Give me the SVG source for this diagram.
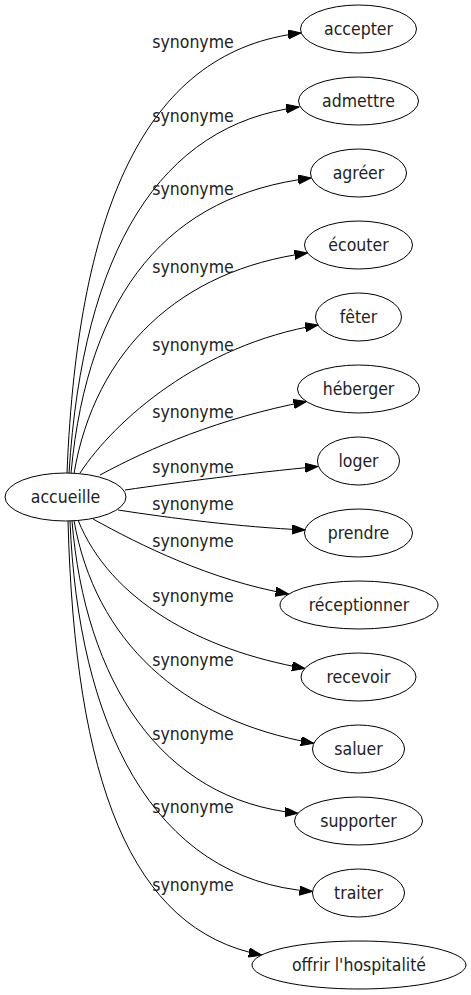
<svg xmlns="http://www.w3.org/2000/svg" width="471" height="995" viewBox="0 0 471 995">
<style>
.n ellipse{fill:#fff;stroke:#000;stroke-width:1}
text{font-family:"DejaVu Sans Condensed","DejaVu Sans",sans-serif;font-stretch:condensed;font-size:17.5px;fill:#222;text-anchor:middle}
.e path{fill:none;stroke:#000;stroke-width:1}
</style>
<defs>
<marker id="arr" markerUnits="userSpaceOnUse" markerWidth="14" markerHeight="10" refX="13" refY="4.6" orient="auto">
<path d="M0,0 L13,4.6 L0,9.2 Z" fill="#000" stroke="#000" stroke-width="1"/>
</marker>
</defs>
<rect width="471" height="995" fill="#fff"/>
<g id="edges" class="e">
<path marker-end="url(#arr)" d="M67,473 C78,200 150,50 301,33"/>
<path marker-end="url(#arr)" d="M69,473 C83,250 160,125 299,107"/>
<path marker-end="url(#arr)" d="M71,473 C88,290 170,195 311,178"/>
<path marker-end="url(#arr)" d="M74,473.5 C95,350 180,270 307.5,253"/>
<path marker-end="url(#arr)" d="M80,473 C115,420 200,345 318,325"/>
<path marker-end="url(#arr)" d="M100,475 C150,448 220,418 306.5,401.5"/>
<path marker-end="url(#arr)" d="M125,490 C180,482 250,473 318,466.5"/>
<path marker-end="url(#arr)" d="M118,510 C170,518 240,527 305,530"/>
<path marker-end="url(#arr)" d="M93,519 C140,545 210,580 288.5,594"/>
<path marker-end="url(#arr)" d="M78,520 C110,600 200,650 305,668.5"/>
<path marker-end="url(#arr)" d="M74,520.5 C95,640 180,720 313.8,743.3"/>
<path marker-end="url(#arr)" d="M72,521 C85,680 160,800 298,813.3"/>
<path marker-end="url(#arr)" d="M70,521 C78,720 150,880 312.5,891.5"/>
<path marker-end="url(#arr)" d="M68,521 C75,780 130,930 261.7,955"/>
</g>
<g id="labels">
<text x="193" y="48">synonyme</text>
<text x="193" y="121.5">synonyme</text>
<text x="193" y="195">synonyme</text>
<text x="193" y="273">synonyme</text>
<text x="193" y="351">synonyme</text>
<text x="193" y="418">synonyme</text>
<text x="193" y="473">synonyme</text>
<text x="193" y="510">synonyme</text>
<text x="193" y="547">synonyme</text>
<text x="193" y="602">synonyme</text>
<text x="193" y="666">synonyme</text>
<text x="193" y="740">synonyme</text>
<text x="193" y="813">synonyme</text>
<text x="193" y="891">synonyme</text>
</g>
<g id="accueille" class="n"><ellipse cx="65.5" cy="497" rx="60.5" ry="24"/><text x="65.5" y="503">accueille</text></g>
<g id="accepter" class="n"><ellipse cx="358.5" cy="29" rx="58" ry="24"/><text x="358.5" y="35">accepter</text></g>
<g id="admettre" class="n"><ellipse cx="358.5" cy="101" rx="60" ry="24"/><text x="358.5" y="107">admettre</text></g>
<g id="agreer" class="n"><ellipse cx="358.5" cy="173" rx="48" ry="24"/><text x="358.5" y="179">agréer</text></g>
<g id="ecouter" class="n"><ellipse cx="358.5" cy="245" rx="54" ry="24"/><text x="358.5" y="251">écouter</text></g>
<g id="feter" class="n"><ellipse cx="358.5" cy="317" rx="43" ry="24"/><text x="358.5" y="323">fêter</text></g>
<g id="heberger" class="n"><ellipse cx="358.5" cy="389" rx="61" ry="24"/><text x="358.5" y="395">héberger</text></g>
<g id="loger" class="n"><ellipse cx="358.5" cy="461" rx="41" ry="24"/><text x="358.5" y="467">loger</text></g>
<g id="prendre" class="n"><ellipse cx="358.5" cy="533" rx="54" ry="24"/><text x="358.5" y="539">prendre</text></g>
<g id="receptionner" class="n"><ellipse cx="359" cy="605" rx="79" ry="24"/><text x="359" y="611">réceptionner</text></g>
<g id="recevoir" class="n"><ellipse cx="358.5" cy="677" rx="57.5" ry="24"/><text x="358.5" y="683">recevoir</text></g>
<g id="saluer" class="n"><ellipse cx="358.5" cy="749" rx="46" ry="24"/><text x="358.5" y="755">saluer</text></g>
<g id="supporter" class="n"><ellipse cx="358.5" cy="821" rx="64" ry="24"/><text x="358.5" y="827">supporter</text></g>
<g id="traiter" class="n"><ellipse cx="358.5" cy="893" rx="46" ry="24"/><text x="358.5" y="899">traiter</text></g>
<g id="offrir" class="n"><ellipse cx="359" cy="965" rx="107" ry="24"/><text x="359" y="971">offrir l'hospitalité</text></g>
</svg>
